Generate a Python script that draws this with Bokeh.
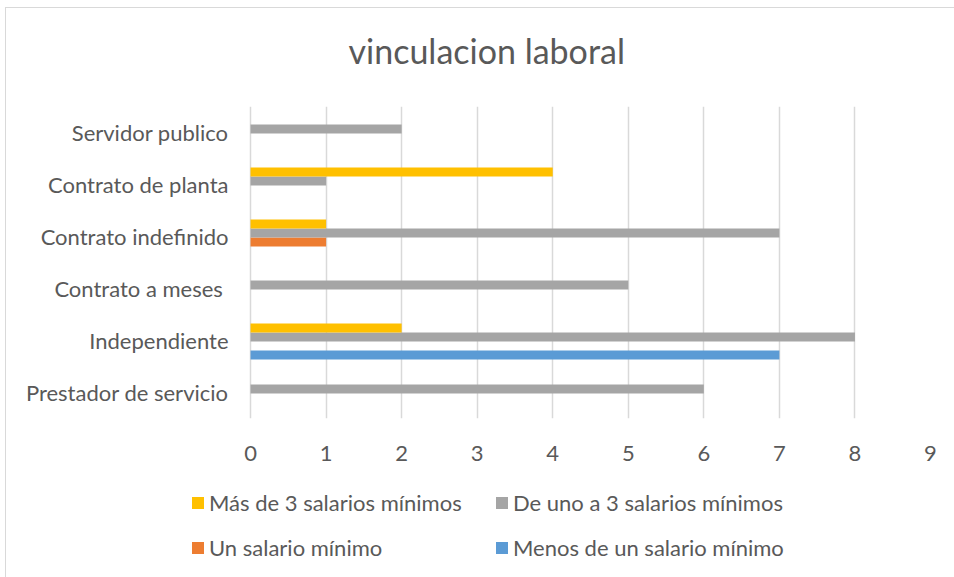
from bokeh.plotting import figure
from bokeh.models import ColumnDataSource, FactorRange, Legend, LegendItem, Range1d
from bokeh.layouts import column
from bokeh.transform import dodge
from bokeh.embed import file_html
from bokeh.resources import INLINE

# ---- data ----
categories = ["Prestador de servicio", "Independiente", "Contrato  a meses",
              "Contrato indefinido", "Contrato de planta", "Servidor publico"]
menos_de_un_salario = [0, 7, 0, 0, 0, 0]
un_salario = [0, 0, 0, 1, 0, 0]
de_uno_a_3 = [6, 8, 5, 7, 1, 2]
mas_de_3 = [0, 2, 0, 1, 4, 0]
series_names = ["Menos de un salario mínimo", "Un salario mínimo",
                "De uno a 3 salarios mínimos", "Más de 3 salarios mínimos"]
series_colors = ["#5B9BD5", "#ED7D31", "#A5A5A5", "#FFC000"]
x_ticks = [0, 1, 2, 3, 4, 5, 6, 7, 8, 9]
title_text = "vinculacion laboral"

FONT = "Lato"
TXT = "#595959"
W = 948
ML, MR = 184, 24          # frame starts where the legend starts
X_START = -60 / 75.5      # blank strip left of zero (legend alignment)

# ---- title strip ----
tf = figure(width=W, height=64, output_backend="svg", toolbar_location=None,
            x_axis_location=None, y_axis_location=None,
            x_range=(0, 1), y_range=(0, 1),
            min_border_left=ML, min_border_right=MR, min_border_top=62,
            min_border_bottom=0)
tf.grid.visible = False
tf.outline_line_color = None
tf.title.text = title_text
tf.title.text_font = FONT
tf.title.text_font_size = "34px"
tf.title.text_font_style = "normal"
tf.title.text_color = TXT
tf.title.align = "left"
tf.title.offset = 158
tf.title.vertical_align = "bottom"
tf.title.standoff = 0

# ---- main chart ----
source = ColumnDataSource(dict(cat=categories, s0=menos_de_un_salario, s1=un_salario,
                               s2=de_uno_a_3, s3=mas_de_3))

p = figure(width=W, height=403, y_range=FactorRange(factors=categories),
           x_range=Range1d(X_START, x_ticks[-1]), output_backend="svg",
           toolbar_location=None,
           min_border_left=ML, min_border_right=MR, min_border_top=34,
           min_border_bottom=57)

h = 9 / 52
offs = [-1.5 * h, -0.5 * h, 0.5 * h, 1.5 * h]
renderers = []
for i, key in enumerate(["s0", "s1", "s2", "s3"]):
    r = p.hbar(y=dodge("cat", offs[i] - 0.02, range=p.y_range), left=0, right=key,
               height=h, source=source, fill_color=series_colors[i], line_color=None)
    renderers.append(r)

p.xaxis.ticker = x_ticks
p.xgrid.ticker = x_ticks
p.xgrid.grid_line_color = "#D9D9D9"
p.xgrid.grid_line_width = 1.5
p.ygrid.grid_line_color = None
p.outline_line_color = None

for ax in (p.xaxis[0], p.yaxis[0]):
    ax.axis_line_color = None
    ax.major_tick_line_color = None
    ax.minor_tick_line_color = None
    ax.major_label_text_font = FONT
    ax.major_label_text_font_size = "22px"
    ax.major_label_text_color = TXT
p.yaxis.major_label_standoff = -44
p.xaxis.major_label_standoff = 21

# ---- legend strip ----
lf = figure(width=W, height=102, output_backend="svg", toolbar_location=None,
            x_axis_location=None, y_axis_location=None, x_range=(0, 1), y_range=(0, 1),
            min_border_left=ML, min_border_top=14, min_border_right=MR,
            min_border_bottom=0)
lf.grid.visible = False
lf.outline_line_color = None
swatches = []
for i in range(4):
    swatches.append(lf.hbar(y=[-10], left=[0], right=[0], height=0.1,
                            fill_color=series_colors[i], line_color=None))

order = [3, 2, 1, 0]
items = [LegendItem(label=series_names[k], renderers=[swatches[k]]) for k in order]
legend = Legend(items=items, orientation="horizontal", ncols=2,
                label_text_font=FONT, label_text_font_size="22px",
                label_text_color=TXT, glyph_width=15, glyph_height=15,
                label_standoff=4, label_width=267, spacing=18,
                padding=0, margin=0, border_line_color=None,
                background_fill_alpha=0, location="top_left")
lf.add_layout(legend, "center")

layout = column(tf, p, lf, spacing=0,
                styles={"margin-left": "5px", "margin-top": "7px",
                        "border-left": "1px solid #D9D9D9",
                        "border-top": "1px solid #D9D9D9"})

open("out.html", "w").write(file_html(layout, INLINE))
